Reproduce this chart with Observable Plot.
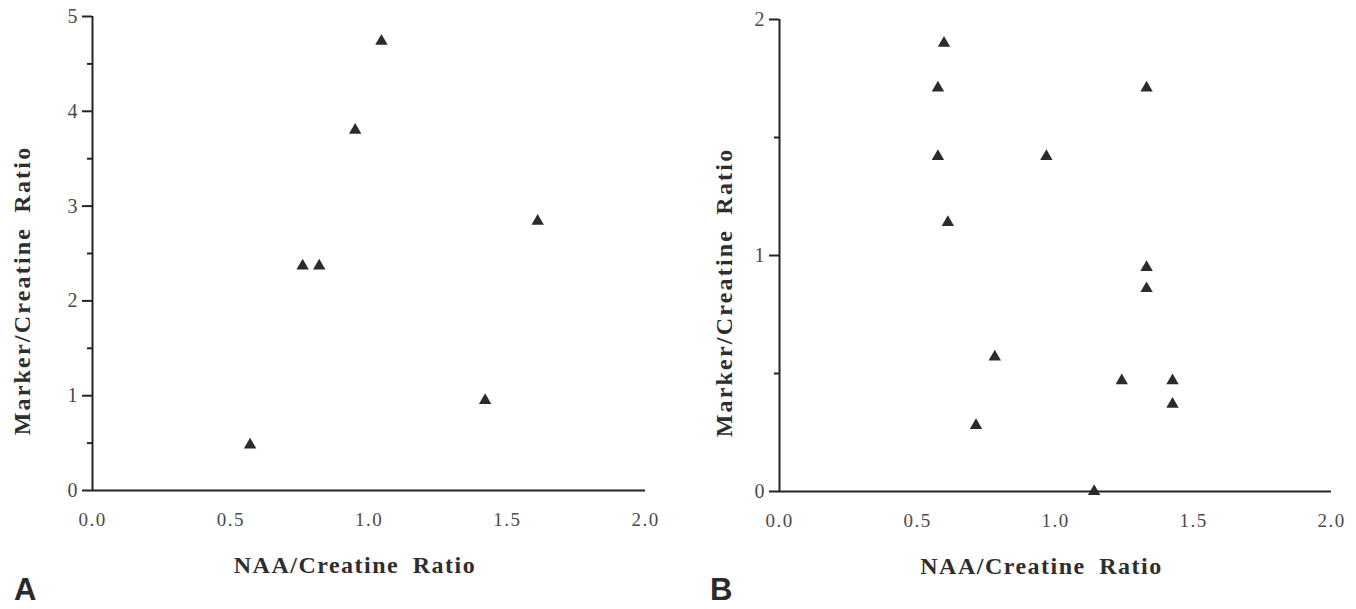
<!DOCTYPE html>
<html>
<head>
<meta charset="utf-8">
<script src="https://cdn.jsdelivr.net/npm/d3@7"></script>
<script src="https://cdn.jsdelivr.net/npm/@observablehq/plot@0.6"></script>
<style>
  html, body { margin: 0; padding: 0; background: #fff; }
  #wrap { position: relative; width: 1356px; height: 609px; overflow: hidden; }
  .panel { position: absolute; top: 0; }
  .panel svg text { font-family: "Liberation Serif", "Times New Roman", Times, "DejaVu Serif", serif !important; }
  .plabel { position: absolute; font-family: "Liberation Sans", Arial, sans-serif; font-weight: bold; font-size: 31px; color: #2a2a2a; line-height: 1; }
</style>
</head>
<body>
<div id="wrap">
  <div id="pa" class="panel" style="left:0px"></div>
  <div id="pb" class="panel" style="left:678px"></div>
  <div class="plabel" style="left:14px; top:574px">A</div>
  <div class="plabel" style="left:710px; top:574px">B</div>
</div>
<script>
// ---- data ----
const naaA    = [0.57, 0.76, 0.82, 0.95, 1.045, 1.42, 1.61];
const markerA = [0.48, 2.37, 2.37, 3.80, 4.74, 0.95, 2.84];

const naaB    = [0.596, 0.574, 1.33, 0.574, 0.967, 0.61, 1.33, 1.33, 0.78, 1.24, 1.424, 1.424, 0.712, 1.14];
const markerB = [1.90, 1.71, 1.71, 1.42, 1.42, 1.14, 0.95, 0.86, 0.57, 0.47, 0.47, 0.37, 0.28, 0.0];

const xTicks  = [0, 0.5, 1.0, 1.5, 2.0];
const yTicksA = [0, 1, 2, 3, 4, 5];
const yMinorA = [0.5, 1.5, 2.5, 3.5, 4.5];
const yTicksB = [0, 1, 2];
const yMinorB = [0.5, 1.5];

const xTitle = "NAA/Creatine Ratio";
const yTitle = "Marker/Creatine Ratio";

const ink = "#262320";
const serif = "Liberation Serif, Times New Roman, serif";

function panel(xs, ys, yMax, yTicks, yMinor, m, yTitleDx) {
  const pts = xs.map((x, i) => ({x, y: ys[i]}));
  const svg = Plot.plot({
    width: 678,
    height: 609,
    marginLeft: m.left,
    marginRight: m.right,
    marginTop: m.top,
    marginBottom: m.bottom,
    style: {background: "transparent", fontFamily: serif},
    x: {domain: [0, 2]},
    y: {domain: [0, yMax]},
    marks: [
      Plot.axisY(yTicks, {tickSize: 10, tickPadding: 5, stroke: ink, strokeWidth: 2, fill: "#4a4a4a",
        fontSize: 20, tickFormat: d3.format("d"), label: null}),
      Plot.axisY(yMinor, {tickSize: 5, stroke: ink, strokeWidth: 2, fill: "none", label: null}),
      Plot.axisX(xTicks, {tickSize: 0, tickPadding: 22, fill: "#4a4a4a", fontSize: 19,
        tickFormat: d3.format(".1f"), label: null}),
      Plot.ruleX([0], {stroke: ink, strokeWidth: 2}),
      Plot.ruleY([0], {stroke: ink, strokeWidth: 2}),
      Plot.dot(pts, {x: "x", y: "y", symbol: "triangle", r: 4.6, fill: "#2b2b2b", stroke: "none"}),
      Plot.text([yTitle], {text: d => d, frameAnchor: "left", textAnchor: "middle", lineAnchor: "middle",
        rotate: -90, dx: yTitleDx, dy: 37,
        fontSize: 24, fontWeight: "bold", fill: "#2e2e2e"}),
      Plot.text([xTitle], {text: d => d, frameAnchor: "bottom", textAnchor: "middle", lineAnchor: "bottom",
        dx: -14, dy: 82,
        fontSize: 24, fontWeight: "bold", fill: "#2e2e2e"})
    ]
  });
  d3.select(svg).selectAll("text").each(function() {
    const t = this.textContent;
    if (t === xTitle) {
      d3.select(this).style("letter-spacing", "1.5px").style("word-spacing", "6px");
    } else if (t === yTitle) {
      d3.select(this).style("letter-spacing", "2.2px").style("word-spacing", "6px");
    } else if (/^\d\.\d$/.test(t)) {
      d3.select(this).style("letter-spacing", "1.5px");
    }
  });
  return svg;
}

document.getElementById("pa").appendChild(
  panel(naaA, markerA, 5, yTicksA, yMinorA, {left: 92, right: 33, top: 16, bottom: 119}, -70));
document.getElementById("pb").appendChild(
  panel(naaB, markerB, 2, yTicksB, yMinorB, {left: 101, right: 25, top: 19, bottom: 118}, -55));
</script>
</body>
</html>
